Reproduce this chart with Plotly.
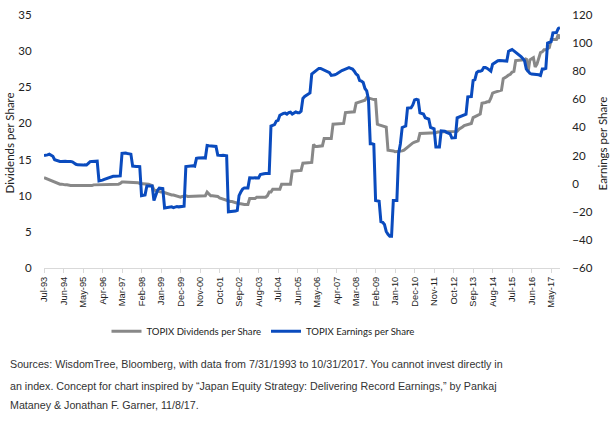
import pandas as pd
import plotly.graph_objects as go

months = pd.date_range("1993-07-01", "2017-10-01", freq="MS").strftime("%b-%y").tolist()
tick_labels = months[::11]

dividends = [
    12.5, 12.4, 12.3, 12.1, 12.0, 11.9,
    11.8, 11.8, 11.7, 11.6, 11.6, 11.5, 11.5, 11.5, 11.4, 11.4,
    11.4, 11.4, 11.3, 11.3, 11.3, 11.3, 11.3, 11.4, 11.4, 11.4,
    11.4, 11.4, 11.5, 11.5, 11.5, 11.5, 11.6, 11.6, 11.6, 11.6,
    11.6, 11.6, 11.6, 11.6, 11.6, 11.6, 11.6, 11.7, 11.9,
    11.9, 11.9, 11.9, 11.9, 11.9, 11.9, 11.9, 11.8, 11.8, 11.7,
    11.7, 11.7, 11.7, 11.7, 11.6, 11.5, 11.4,
    10.8, 10.7, 10.7, 10.6, 10.5, 10.5, 10.4, 10.3,
    10.3, 10.2, 10.1, 10.1, 10.0, 9.9, 9.8, 9.8, 9.9, 10.0,
    10.0, 9.9, 9.9, 9.9, 9.9, 9.9, 9.9, 9.9, 9.9, 9.9, 9.9, 10.0,
    10.5, 10.3, 10.0, 10.0, 10.0, 10.0, 9.9, 9.7,
    9.6, 9.5, 9.5, 9.4, 9.3, 9.2, 9.2, 9.1, 9.1, 9.0,
    8.9, 8.9, 8.8, 8.8, 8.8, 8.8,
    9.6, 9.6, 9.6, 9.6, 9.8, 9.8,
    9.8, 9.8, 9.8, 9.8, 10.0, 10.5,
    10.5, 10.9, 10.9, 10.9, 10.9, 10.9,
    11.6, 11.6, 11.6, 11.6, 11.6, 11.6,
    13.4, 13.4, 13.4, 13.5, 13.5, 13.5,
    14.5, 14.5, 14.5, 14.5, 14.5, 14.6,
    17.1, 16.8, 16.8, 16.8, 16.8, 16.9,
    17.9, 17.9, 17.9, 17.9, 17.9, 19.9,
    19.9, 19.9, 20.0, 20.0, 20.0, 20.0,
    21.5, 21.5, 21.5, 21.6, 21.6, 21.6,
    22.8, 22.9, 23.0, 23.1, 23.2, 23.2,
    23.6, 23.5, 23.5, 23.3, 23.3, 23.3,
    19.9, 19.8, 19.7, 19.6, 19.5, 19.5,
    16.3, 16.3, 16.2, 16.2, 16.1, 16.1,
    16.1, 16.1, 16.2, 16.3, 16.5, 16.8,
    17.0, 17.2, 17.3, 17.4, 17.5, 17.6,
    18.6, 18.6, 18.6, 18.6, 18.6, 18.6,
    18.6, 18.7, 18.7, 18.7, 18.8, 18.8,
    18.8, 18.8, 18.8, 18.8, 18.8, 18.8, 18.8, 18.8, 18.8, 18.9,
    19.2, 19.3, 19.5, 19.7, 19.8, 19.9,
    19.9, 20.0, 20.8, 20.9, 21.0, 21.2,
    21.3, 22.8, 22.8, 22.9, 23.0, 23.0,
    23.5, 24.2, 24.3, 24.4, 24.5, 24.6,
    24.6, 26.2, 26.3, 26.5, 26.7, 26.8,
    27.1, 27.2, 28.7, 28.7, 28.7, 28.7,
    28.7, 28.8, 29.0, 27.1, 28.8, 29.0,
    29.1, 27.8, 28.2, 29.0, 29.8, 29.9,
    30.2, 30.2, 30.3, 30.5, 31.6, 31.6,
    31.6, 31.6, 32.3, 31.7,
]

earnings = [
    20, 20, 20.5, 21, 20.5, 19.5,
    17, 16.5, 16, 15.8, 15.8, 16, 16, 15.8, 16, 15.8, 15.5, 14.5, 13.8,
    13.4, 13.2, 13, 13.2, 13.5, 13.3, 14.5,
    15.7, 15.8, 15.9, 16, 16,
    2, 2, 2.5, 3, 3.5, 4.2, 4.5, 5, 5.3, 5.3, 5.5, 5.3, 5.5,
    21.5, 21.7, 21.8, 21.5, 21.5, 21,
    12.5, 12.2, 12.2, 12.3, 12.2,
    -8.5, -8.5, -8,
    -1.6, -1.5, -1.8, -1.6,
    -12, -8,
    -4.8, -3.2, -3.2, -3.5,
    -17.3, -17, -17, -16.8, -16.5, -17, -16.5, -16.2, -16.5, -16.2, -16, -16,
    12.2, 12.4, 12.5, 12.5, 12.8, 12.5,
    18, 18.3, 18.5, 18.2, 18.5, 18.3,
    27.2, 27, 27, 26.8, 26.5, 26.5,
    20.3, 20, 20, 20.2, 20, 19.8,
    -20, -20, -20, -19.8, -19.5, -19,
    -8.5, -6,
    -3.9, -3, -3, -3,
    4.2, 4, 4, 4.2, 4, 4,
    6.5, 7, 7, 7.2, 7, 7.2,
    41, 41.5, 42,
    44.5, 45,
    48.7, 49.5, 50, 50.2, 49.5, 50.5, 50.8, 49.5, 50, 51, 50.5, 50.5, 51.5,
    60.7, 62, 63, 64, 64.5,
    78, 79, 80,
    81.5, 82, 82, 81.5, 81, 80.5, 80, 79,
    77, 77, 77.5, 78, 79,
    80, 80.5, 81,
    81.5, 82, 82.5, 82, 81.5, 80, 78, 77,
    73.4, 73, 72,
    67.7, 66, 60,
    28.4, 28.4, 28,
    -12, -12, -12.5,
    -27, -27.5, -29,
    -34, -36,
    -37.4, -37.4,
    -12, -12, -12,
    21.5, 28.4,
    40, 40.5, 41,
    53.8, 54, 54, 56,
    59.6, 60, 59.6,
    50.3, 50, 49.5,
    46.9, 46.5, 46,
    40, 39.5, 39,
    26.1, 26, 26.1,
    37.6, 37.5, 37.3, 36.5, 36, 35.5,
    32.5, 32.5, 32.7,
    46.9, 47.5, 48.2, 48.5, 49, 49.5,
    61.8, 62, 62,
    73.4, 74,
    79, 80, 80, 80.5,
    82.6, 82.6, 82, 81, 80,
    85, 86, 87, 87.5,
    87.7, 87.7, 87.5, 87.5, 87.2,
    94.2, 95, 95.4, 94.5,
    93.5, 92.5, 91.9,
    90.5, 89, 87.5,
    81.5, 80, 78.5,
    78, 78, 78, 78, 77.5, 77,
    81.5, 81.5, 82,
    100, 100.5, 101,
    107.3, 107.3, 107.5,
    110.3, 111,
]

left_ticks = [0, 5, 10, 15, 20, 25, 30, 35]
right_ticks = [-60, -40, -20, 0, 20, 40, 60, 80, 100, 120]

source_lines = [
    "Sources: WisdomTree, Bloomberg, with data from 7/31/1993 to 10/31/2017. You cannot invest directly in",
    "an index. Concept for chart inspired by \u201cJapan Equity Strategy: Delivering Record Earnings,\u201d by Pankaj",
    "Mataney &amp; Jonathan F. Garner, 11/8/17.",
]

GRAY = "#888888"
BLUE = "#0A4BBE"
CAL = "Lato, Carlito, sans-serif"
TICK_FONT = dict(family=CAL, size=11.5, color="#222222")
XTICK_FONT = dict(family="Liberation Sans, Arial, sans-serif", size=9.3, color="#222222")

fig = go.Figure()
fig.add_trace(go.Scatter(x=months, y=dividends, mode="lines", name="TOPIX Dividends per Share",
                         line=dict(color=GRAY, width=3)))
fig.add_trace(go.Scatter(x=months, y=earnings, mode="lines", name="TOPIX Earnings per Share",
                         line=dict(color=BLUE, width=3), yaxis="y2"))

L, R, T, B = 44, 51, 8, 158
W, H = 611, 426
pw = W - L - R
ph = H - T - B


def px_x(x):
    return (x - L) / pw


def px_y(y):
    return (ph - (y - T)) / ph


annotations = [
    dict(text="Dividends per Share", xref="paper", yref="paper",
         x=px_x(9), y=px_y(140), textangle=-90,
         showarrow=False, xanchor="center", yanchor="middle",
         font=dict(family=CAL, size=11.5, color="#222222")),
    dict(text="Earnings per Share", xref="paper", yref="paper",
         x=px_x(602), y=px_y(140), textangle=-90,
         showarrow=False, xanchor="center", yanchor="middle",
         font=dict(family=CAL, size=11.5, color="#222222")),
]
for i, (line, yc) in enumerate(zip(source_lines, [367, 389, 409])):
    annotations.append(dict(
        text=line, xref="paper", yref="paper", x=px_x(8), y=px_y(yc),
        xanchor="left", yanchor="middle", align="left", showarrow=False,
        font=dict(family="Liberation Sans, Arial, sans-serif", size=10.7, color="#333333")))

fig.update_layout(
    width=W, height=H,
    margin=dict(l=L, r=R, t=T, b=B),
    plot_bgcolor="white", paper_bgcolor="white",
    showlegend=True,
    legend=dict(orientation="h", x=px_x(263), xanchor="center",
                y=px_y(333), yanchor="middle",
                font=dict(family=CAL, size=9.6, color="#222222"),
                itemwidth=30, tracegroupgap=0),
    xaxis=dict(type="category", range=[0, len(months) - 1],
               tickmode="array", tickvals=tick_labels, ticktext=tick_labels,
               tickangle=-90, tickfont=XTICK_FONT,
               showline=True, linecolor="#D9D9D9", linewidth=1,
               ticks="outside", ticklen=4, tickcolor="#D9D9D9",
               showgrid=False, zeroline=False),
    yaxis=dict(range=[0, 35], tickvals=left_ticks, tickfont=TICK_FONT,
               showgrid=False, zeroline=False, showline=False,
               ticks="outside", ticklen=9, tickcolor="rgba(0,0,0,0)"),
    yaxis2=dict(range=[-60, 120], tickvals=right_ticks, tickfont=TICK_FONT,
                overlaying="y", side="right",
                showgrid=False, zeroline=False, showline=False,
                ticks="outside", ticklen=9, tickcolor="rgba(0,0,0,0)"),
    annotations=annotations,
)

fig.write_html("out.html")
